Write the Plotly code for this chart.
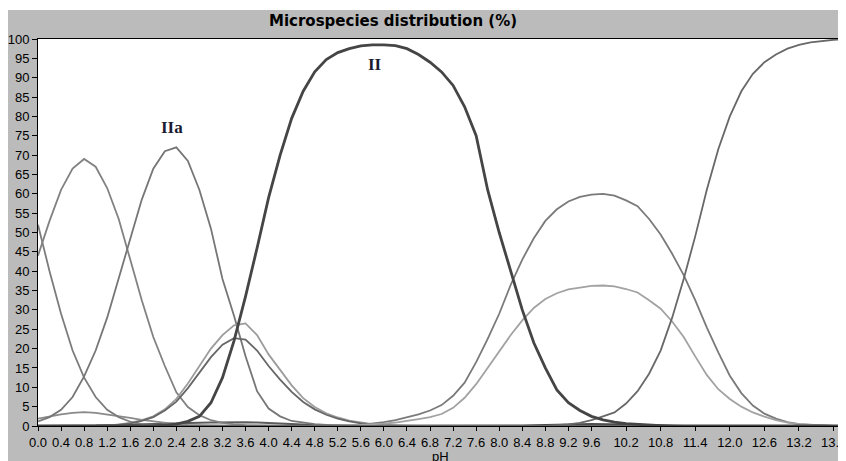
import plotly.graph_objects as go

# pH grid (0.0 .. 14.0, step 0.2)
PH = [0.0, 0.2, 0.4, 0.6, 0.8, 1.0, 1.2, 1.4, 1.6, 1.8,
      2.0, 2.2, 2.4, 2.6, 2.8, 3.0, 3.2, 3.4, 3.6, 3.8,
      4.0, 4.2, 4.4, 4.6, 4.8, 5.0, 5.2, 5.4, 5.6, 5.8,
      6.0, 6.2, 6.4, 6.6, 6.8, 7.0, 7.2, 7.4, 7.6, 7.8,
      8.0, 8.2, 8.4, 8.6, 8.8, 9.0, 9.2, 9.4, 9.6, 9.8,
      10.0, 10.2, 10.4, 10.6, 10.8, 11.0, 11.2, 11.4, 11.6, 11.8,
      12.0, 12.2, 12.4, 12.6, 12.8, 13.0, 13.2, 13.4, 13.6, 13.8,
      14.0]

# microspecies distributions (%)
SP_A = [52, 40, 29, 19.5, 12.5, 7.5, 4.2, 2.3, 1.1, 0.5, 0.25, 0.1, 0] + [0] * 58
SP_B = [44, 53, 61, 66.5, 69, 67, 61.5, 53.5, 43, 32.5, 23, 15.5, 8.7, 4.9, 2.8,
        1.5, 0.8, 0.4, 0.2, 0.1, 0] + [0] * 50
SP_IIA = [1.2, 2.3, 4.2, 7.5, 12.8, 19.5, 28, 38, 48.5, 58.5, 66.5, 71, 72, 68.5,
          61, 51, 38, 28.5, 18, 9, 4.5, 2.5, 1.3, 0.8, 0.5, 0.3, 0.2, 0.1, 0] + [0] * 42
SP_D = [1.9, 2.5, 3.0, 3.4, 3.6, 3.4, 3.0, 2.6, 2.1, 1.6, 1.2, 0.8, 0.5, 0.3, 0.2,
        0.1] + [0] * 55
SP_E = [0] * 7 + [0.4, 0.8, 1.5, 2.5, 4.3, 7, 11, 15.5, 20, 23.5, 26, 26.5, 23.5,
                  18.5, 14.5, 10.5, 7.2, 4.9, 3.3, 2.2, 1.4, 0.9, 0.5, 0.3, 0.1] + [0] * 39
SP_F = [0] * 7 + [0.3, 0.7, 1.3, 2.3, 4, 6.3, 9.8, 13.8, 17.8, 21, 22.7, 22.3, 19.5,
                  15.5, 12, 8.8, 6.2, 4.3, 2.9, 1.9, 1.2, 0.7, 0.4, 0.2, 0.1] + [0] * 39
SP_II = [0] * 11 + [0.2, 0.5, 1.2, 2.5, 6, 12.5, 22, 33.5, 46, 59, 70, 79.5, 86.5,
                    91.5, 94.7, 96.5, 97.5, 98.2, 98.5, 98.5, 98.3, 97.5, 96, 94,
                    91.5, 88, 82.5, 75, 61, 50, 40, 30, 21.5, 15, 9.3, 6, 4, 2.5,
                    1.6, 1, 0.6, 0.4, 0.2, 0.1] + [0] * 16
SP_G = [0] * 28 + [0.3, 0.6, 1, 1.5, 2.2, 3, 4, 5.4, 7.8, 11.2, 16.5, 22.5, 29, 36.5,
                   43, 48.5, 53, 56, 58, 59.2, 59.8, 60, 59.5, 58.3, 56.8, 53.5,
                   49.5, 44.5, 39, 32.5, 25.5, 19, 13, 8.5, 5.3, 3.2, 1.9, 1, 0.5,
                   0.3, 0.1] + [0] * 2
SP_H = [0] * 28 + [0.3, 0.4, 0.6, 0.9, 1.3, 1.8, 2.3, 3.1, 4.7, 7.3, 10.8, 15, 19.5,
                   23.5, 27.3, 30.5, 32.8, 34.3, 35.3, 35.8, 36.2, 36.3, 36.1, 35.4,
                   34.5, 32.5, 30.3, 27, 23, 18, 13.2, 9.5, 7, 5, 3.5, 2.4, 1.5,
                   0.9, 0.5, 0.3, 0.1] + [0] * 2
SP_J = [0] * 45 + [0.2, 0.4, 0.8, 1.5, 2.5, 3.5, 5.8, 9, 13.5, 19.5, 28, 38, 49, 61,
                   71.5, 80, 86.5, 91, 94, 96, 97.5, 98.5, 99.1, 99.5, 99.8, 100]
SP_K = [0] * 5 + [0.1, 0.2, 0.3, 0.4, 0.5, 0.6, 0.7, 0.75, 0.8, 0.85, 0.9, 0.95,
                  1.0, 1.0, 0.9, 0.75, 0.6, 0.45, 0.3, 0.2, 0.1] + [0] * 45
SP_L = [0] * 42 + [0.1, 0.2, 0.3, 0.35, 0.4, 0.45, 0.5, 0.5, 0.45, 0.4, 0.3, 0.2,
                   0.1] + [0] * 16

X_TICKS = [0.0, 0.4, 0.8, 1.2, 1.6, 2.0, 2.4, 2.8, 3.2, 3.6, 4.0, 4.4, 4.8, 5.2,
           5.6, 6.0, 6.4, 6.8, 7.2, 7.6, 8.0, 8.4, 8.8, 9.2, 9.6, 10.2, 10.8,
           11.4, 12.0, 12.6, 13.2, 13.8]
X_LABELS = [f"{v:.1f}" for v in X_TICKS]

TITLE = "Microspecies distribution (%)"

series = [
    (SP_K, "#5c5c5c", 2.0),
    (SP_L, "#4c4c4c", 2.0),
    (SP_D, "#8a8a8a", 1.8),
    (SP_A, "#7c7c7c", 1.8),
    (SP_B, "#828282", 1.8),
    (SP_IIA, "#767676", 1.8),
    (SP_E, "#9c9c9c", 1.8),
    (SP_F, "#666666", 1.8),
    (SP_G, "#7a7a7a", 1.8),
    (SP_H, "#a2a2a2", 1.8),
    (SP_J, "#686868", 1.8),
    (SP_II, "#454545", 2.8),
]

fig = go.Figure()
for ys, col, w in series:
    fig.add_trace(go.Scatter(x=PH, y=ys, mode="lines",
                             line=dict(color=col, width=w),
                             hoverinfo="skip", showlegend=False))

BG = "#bbbbbb"
fig.update_layout(
    width=838, height=453,
    margin=dict(l=28, r=0, t=31, b=35, pad=0),
    paper_bgcolor=BG, plot_bgcolor="white",
    showlegend=False,
    font=dict(family="Liberation Sans, Arial, sans-serif", size=13, color="black"),
)
fig.update_xaxes(range=[0, 13.894], tickmode="array", tickvals=X_TICKS,
                 ticktext=X_LABELS, ticks="outside", ticklen=4, tickcolor="black",
                 showline=True, linecolor="black", linewidth=1, mirror=True,
                 showgrid=False, zeroline=False, ticklabeloverflow="allow",
                 tickfont=dict(size=13))
fig.update_yaxes(range=[0, 100], dtick=5, tick0=0, ticks="outside", ticklen=5,
                 tickcolor="black", showline=True, linecolor="black", linewidth=1,
                 showgrid=False, zeroline=False, tickfont=dict(size=13))

# thin white strip at the very top of the picture
fig.add_shape(type="rect", xref="paper", yref="paper", x0=-0.1, x1=1.1,
              y0=1.075, y1=1.3, fillcolor="white", line_width=0, layer="below")

fig.add_annotation(text="<b>" + TITLE + "</b>", xref="paper", yref="paper",
                   x=0.443, y=1.0455, xanchor="center", yanchor="middle",
                   showarrow=False,
                   font=dict(family="DejaVu Sans, Verdana, sans-serif", size=15,
                             color="black"))
fig.add_annotation(text="pH", xref="paper", yref="paper", x=0.5025, y=-0.078,
                   xanchor="center", yanchor="middle", showarrow=False,
                   font=dict(size=13, color="black"))
fig.add_annotation(text="<b>IIa</b>", x=2.32, y=77.1, xref="x", yref="y",
                   showarrow=False, xanchor="center", yanchor="middle",
                   font=dict(family="Liberation Serif, Times New Roman, serif",
                             size=17, color="#1a1a30"))
fig.add_annotation(text="<b>II</b>", x=5.84, y=93.4, xref="x", yref="y",
                   showarrow=False, xanchor="center", yanchor="middle",
                   font=dict(family="Liberation Serif, Times New Roman, serif",
                             size=17, color="#1a1a30"))

fig.write_html("out.html")
